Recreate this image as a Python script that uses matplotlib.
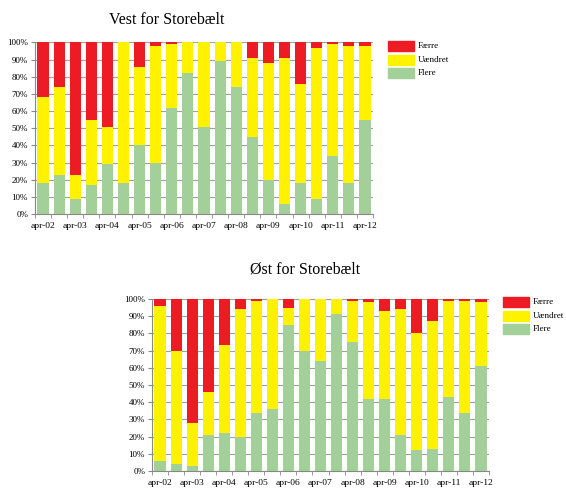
import numpy as np
import matplotlib
matplotlib.use('Agg')
import matplotlib.pyplot as plt

plt.rcParams['font.family'] = ['Liberation Serif', 'DejaVu Serif']

# semi-annual surveys, apr-02 .. apr-12 (labels on every second bar)
labels = ['apr-02', '', 'apr-03', '', 'apr-04', '', 'apr-05', '', 'apr-06', '', 'apr-07', '',
          'apr-08', '', 'apr-09', '', 'apr-10', '', 'apr-11', '', 'apr-12']

# Vest for Storebælt (percent)
vest_flere = [18, 23, 9, 17, 29, 18, 40, 30, 62, 82, 51, 89, 74, 45, 20, 6, 18, 9, 34, 18, 55]
vest_uaendret = [50, 51, 14, 38, 22, 82, 46, 68, 37, 18, 49, 11, 26, 46, 68, 85, 58, 88, 65, 80, 43]
vest_faerre = [32, 26, 77, 45, 49, 0, 14, 2, 1, 0, 0, 0, 0, 9, 12, 9, 24, 3, 1, 2, 2]

# Øst for Storebælt (percent)
oest_flere = [6, 4, 3, 21, 22, 20, 34, 36, 85, 70, 64, 91, 75, 42, 42, 21, 12, 13, 43, 34, 61]
oest_uaendret = [90, 66, 25, 25, 51, 74, 65, 64, 10, 30, 36, 9, 24, 56, 51, 73, 68, 74, 56, 65, 37]
oest_faerre = [4, 30, 72, 54, 27, 6, 1, 0, 5, 0, 0, 0, 1, 2, 7, 6, 20, 13, 1, 1, 2]

RED = '#ed1c24'
YELLOW = '#fff200'
GREEN = '#a3cf98'

W, H = 566, 488
fig = plt.figure(figsize=(W / 100, H / 100), dpi=100)


def draw(rect, flere, uaendret, faerre, title, title_xy, leg_xy):
    ax = fig.add_axes(rect)
    x = np.arange(len(flere))
    flere = np.array(flere)
    uaendret = np.array(uaendret)
    faerre = np.array(faerre)
    ax.bar(x, flere, width=0.69, color=GREEN, zorder=2)
    ax.bar(x, uaendret, width=0.69, bottom=flere, color=YELLOW, zorder=2)
    ax.bar(x, faerre, width=0.69, bottom=flere + uaendret, color=RED, zorder=2)
    ax.set_xlim(-0.5, len(x) - 0.5)
    ax.set_ylim(0, 100)
    ax.set_yticks(np.arange(0, 101, 10))
    ax.set_yticklabels([f'{v}%' for v in range(0, 101, 10)], fontsize=6.5)
    ax.set_xticks(x)
    ax.set_xticklabels(labels, fontsize=6.8)
    ax.set_xticks(np.arange(-0.5, len(x), 1), minor=True)
    ax.tick_params(axis='x', which='major', length=0, pad=6)
    ax.tick_params(axis='x', which='minor', length=3, color='#888888')
    ax.tick_params(axis='y', length=3, color='#888888', pad=2)
    ax.yaxis.grid(True, color='#a0a0a0', linewidth=0.8, zorder=0)
    ax.set_axisbelow(True)
    for s in ['top', 'right']:
        ax.spines[s].set_visible(False)
    for s in ['left', 'bottom']:
        ax.spines[s].set_color('#888888')
        ax.spines[s].set_linewidth(0.8)
    fig.text(title_xy[0] / W, 1 - title_xy[1] / H, title, fontsize=11.5,
             ha='center', va='center')
    lx, ly = leg_xy
    for i, (c, name) in enumerate([(RED, 'Færre'), (YELLOW, 'Uændret'), (GREEN, 'Flere')]):
        y = ly + i * 13.5
        fig.patches.append(plt.Rectangle((lx / W, 1 - (y + 5) / H), 26 / W, 10 / H,
                                         color=c, transform=fig.transFigure))
        fig.text((lx + 30) / W, 1 - y / H, name, fontsize=6.5, va='center')


draw([35 / W, 1 - 214 / H, 338 / W, 171.5 / H], vest_flere, vest_uaendret, vest_faerre,
     'Vest for Storebælt', (167, 20), (388, 46))
draw([152 / W, 1 - 471 / H, 337 / W, 172 / H], oest_flere, oest_uaendret, oest_faerre,
     'Øst for Storebælt', (305, 270), (503, 302))

fig.savefig('out.png', dpi=100)
